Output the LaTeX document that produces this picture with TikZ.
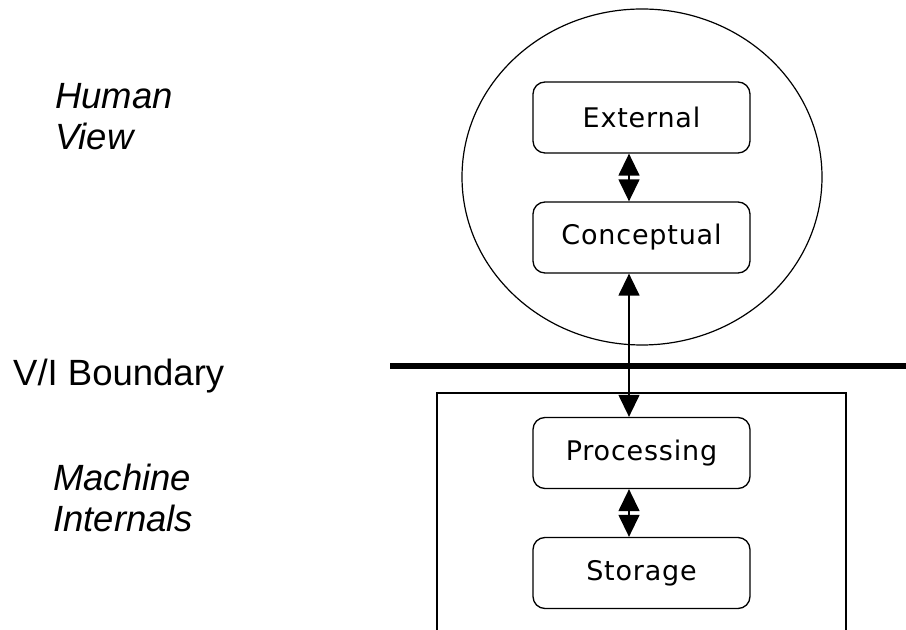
\documentclass[tikz,border=0pt]{standalone}
\usepackage{fontspec}
\setmainfont{Liberation Sans}
\newfontfamily\boxfont[LetterSpace=3]{DejaVu Sans}
\usetikzlibrary{arrows.meta,positioning}

\tikzstyle{box} = [rectangle, rounded corners=12bp, minimum width=217bp, minimum height=71bp, text centered, draw=black, line width=1.3bp, font=\boxfont\fontsize{27bp}{32bp}\selectfont]
\tikzstyle{biarrow} = [line width=1.4bp, {Triangle[length=22bp,width=21bp]}-{Triangle[length=22bp,width=21bp]}]
\tikzstyle{side} = [anchor=base west, align=left, inner sep=0pt, font=\fontsize{36.5bp}{41bp}\selectfont]

\begin{document}
\begin{tikzpicture}[x=1bp, y=1bp, node distance=120bp]
\useasboundingbox (0,0) rectangle (906,630);
 %human side
\draw [line width=1.2bp] (642,453) ellipse [x radius=180, y radius=168];
\node (Ext) [box] at (641.5,512.5) {External};
\node (Con) [box, below of=Ext] {Conceptual};

 %boundary
\draw [line width=6bp] (390,264) -- (906,264);
\node (VI) [side] at (13,244) {V/I Boundary};

 %machine side
\draw [line width=1.2bp] (437,0) |- (846,237) -- (846,0);
\node (Proc) [box, below of=Con, yshift=-95.5bp] {Processing};
\node (Sto) [box, below of=Proc] {Storage};

 %labels
\node (Human) [side] at (55,480) {\itshape Human\\\itshape View};
\node (Mach) [side] at (53,98) {\itshape Machine\\\itshape Internals};

 %arrows
\draw [biarrow] ([xshift=-12.5bp]Ext.south) -- ([xshift=-12.5bp]Con.north);
\draw [biarrow] ([xshift=-12.5bp]Con.south) -- ([xshift=-12.5bp]Proc.north);
\draw [biarrow] ([xshift=-12.5bp]Proc.south) -- ([xshift=-12.5bp]Sto.north);

\end{tikzpicture}
\end{document}
